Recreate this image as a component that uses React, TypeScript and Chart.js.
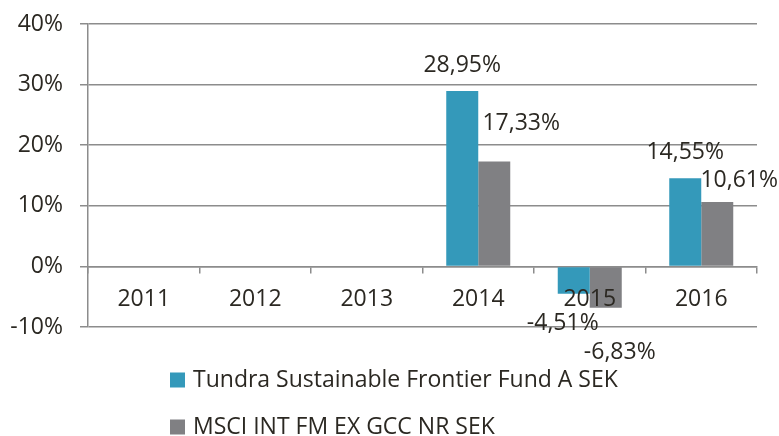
import { useEffect, useRef } from "react";
import { Chart, registerables } from "chart.js";

Chart.register(...registerables);

const CATEGORIES = ["2011", "2012", "2013", "2014", "2015", "2016"];
const FUND_LABEL = "Tundra Sustainable Frontier Fund A SEK";
const INDEX_LABEL = "MSCI INT FM EX GCC NR SEK";
const FUND_VALUES = [null, null, null, 28.95, -4.51, 14.55];
const INDEX_VALUES = [null, null, null, 17.33, -6.83, 10.61];
const Y_MIN = -10;
const Y_MAX = 40;
const Y_STEP = 10;

const FONT = '"Open Sans", sans-serif';
const FONT_SIZE = 23;
const TEXT = "#2b2822";
const GRID = "#8c8c8c";
const FUND_COLOR = "#3499ba";
const INDEX_COLOR = "#808083";

// manual nudges of value labels (like the original's hand-placed labels)
const LABEL_NUDGE: Record<number, [number, number]>[] = [
  { 3: [0, -26], 4: [-11, 30], 5: [0, -26] },
  { 3: [27, -38], 4: [14, 45], 5: [22, -22] },
];

const fmt = (v: number) => v.toFixed(2).replace(".", ",") + "%";

const valueLabels = {
  id: "valueLabels",
  afterDraw(chart: any) {
    const ctx = chart.ctx;
    ctx.save();
    ctx.font = `${FONT_SIZE}px ${FONT}`;
    ctx.fillStyle = TEXT;
    ctx.textAlign = "center";
    ctx.textBaseline = "middle";
    chart.data.datasets.forEach((ds: any, di: number) => {
      const meta = chart.getDatasetMeta(di);
      meta.data.forEach((el: any, i: number) => {
        const v = ds.data[i];
        if (v == null) return;
        const nudge = LABEL_NUDGE[di][i] || [0, v >= 0 ? -26 : 26];
        ctx.fillText(fmt(v), el.x + nudge[0], el.y + nudge[1]);
      });
    });
    ctx.restore();
  },
};

const stackedLegend = {
  id: "stackedLegend",
  afterDraw(chart: any) {
    const ctx = chart.ctx;
    const area = chart.chartArea;
    const x0 = area.left + 82;
    ctx.save();
    ctx.font = `${FONT_SIZE}px ${FONT}`;
    ctx.textAlign = "left";
    ctx.textBaseline = "middle";
    chart.data.datasets.forEach((ds: any, di: number) => {
      const y = area.bottom + 53 + di * 47;
      ctx.fillStyle = ds.backgroundColor;
      ctx.fillRect(x0, y - 7.5, 15, 15);
      ctx.fillStyle = TEXT;
      ctx.fillText(ds.label, x0 + 23, y);
    });
    ctx.restore();
  },
};

export default function App() {
  const canvasRef = useRef<HTMLCanvasElement | null>(null);

  useEffect(() => {
    if (!canvasRef.current) return;
    const chart = new Chart(canvasRef.current, {
      type: "bar",
      data: {
        labels: CATEGORIES,
        datasets: [
          { label: FUND_LABEL, data: FUND_VALUES, backgroundColor: FUND_COLOR },
          { label: INDEX_LABEL, data: INDEX_VALUES, backgroundColor: INDEX_COLOR },
        ],
      },
      options: {
        responsive: true,
        maintainAspectRatio: false,
        animation: false,
        layout: { padding: { left: 10, right: 22, top: 24, bottom: 109 } },
        datasets: { bar: { categoryPercentage: 0.574, barPercentage: 1 } },
        plugins: { legend: { display: false }, tooltip: { enabled: false } },
        scales: {
          x: {
            position: { y: 0 } as any,
            grid: {
              drawOnChartArea: false,
              drawTicks: true,
              tickLength: 6,
              color: GRID,
              lineWidth: 1.5,
              offset: true,
            },
            border: { display: true, color: GRID, width: 1.5 },
            ticks: { z: 1, color: TEXT, font: { family: FONT, size: FONT_SIZE }, padding: 13 },
          },
          y: {
            min: Y_MIN,
            max: Y_MAX,
            afterFit: (scale: any) => {
              scale.width = 78;
              scale.paddingTop = 0;
              scale.paddingBottom = 0;
            },
            ticks: {
              stepSize: Y_STEP,
              color: TEXT,
              font: { family: FONT, size: FONT_SIZE },
              padding: 17,
              callback: (v: any) => v + "%",
            },
            grid: { color: GRID, lineWidth: 1.5, tickLength: 8 },
            border: { display: true, color: GRID, width: 1.5 },
          },
        },
      },
      plugins: [valueLabels, stackedLegend],
    });
    return () => chart.destroy();
  }, []);

  return (
    <div style={{ position: "absolute", left: 0, top: 0, width: 779, height: 436 }}>
      <canvas ref={canvasRef} />
    </div>
  );
}
